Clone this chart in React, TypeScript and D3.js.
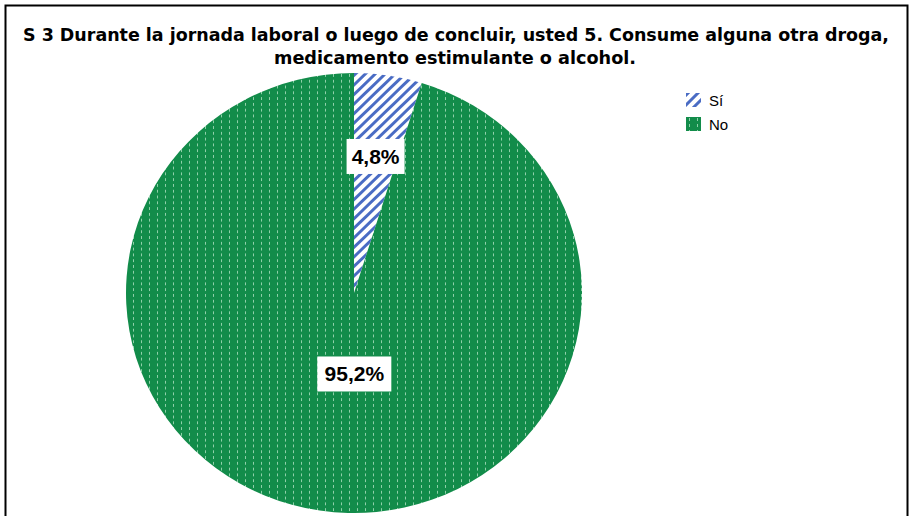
import React from "react";
import * as d3 from "d3";

const categories = ["Sí", "No"];
const values = [4.8, 95.2];
const labels = ["4,8%", "95,2%"];
const titleLines = [
  "S 3 Durante la jornada laboral o luego de concluir, usted 5. Consume alguna otra droga,",
  "medicamento estimulante o alcohol.",
];

const W = 912;
const H = 516;
const cx = 354;
const cy = 293;
const rx = 228;
const ry = 220;

export default function App() {
  const pie = d3.pie<number>().sort(null).value((d) => d)(values);
  const arc = d3.arc<d3.PieArcDatum<number>>().innerRadius(0).outerRadius(rx);
  const labelDist = [0.63, 0.37];
  const fills = ["url(#stripes)", "url(#dots)"];
  const boxW = [58, 74];

  return (
    <svg
      width={W}
      height={H}
      style={{ position: "absolute", left: 0, top: 0, background: "#fff" }}
    >
      <defs>
        <pattern id="stripes" patternUnits="userSpaceOnUse" width="7" height="7" patternTransform="rotate(45)">
          <rect width="7" height="7" fill="#fff" />
          <rect x="0" y="0" width="3" height="7" fill="#4a6cc4" />
        </pattern>
        <pattern id="dots" patternUnits="userSpaceOnUse" width="8" height="6">
          <rect width="8" height="6" fill="#128c4a" />
          <rect x="3" y="1" width="1" height="3" fill="#8fd0a9" />
        </pattern>
      </defs>
      <rect x={5.5} y={5.5} width={902} height={520} fill="none" stroke="#000" strokeWidth={2} />
      <g fontFamily="'DejaVu Sans Condensed', 'DejaVu Sans', sans-serif" fontWeight="bold" fontSize={17} textAnchor="middle" fill="#000">
        <text x={456} y={41} textLength={866} lengthAdjust="spacingAndGlyphs">{titleLines[0]}</text>
        <text x={455} y={64} textLength={362} lengthAdjust="spacingAndGlyphs">{titleLines[1]}</text>
      </g>
      <g transform={`translate(${cx},${cy}) scale(1,${ry / rx})`}>
        {pie.map((p, i) => (
          <path key={i} d={arc(p) || ""} fill={fills[i]} />
        ))}
      </g>
      {pie.map((p, i) => {
        const a = (p.startAngle + p.endAngle) / 2;
        const x = cx + Math.sin(a) * labelDist[i] * rx + (i === 1 ? 13 : 0);
        const y = cy - Math.cos(a) * labelDist[i] * ry;
        return (
          <g key={i}>
            <rect x={x - boxW[i] / 2} y={y - 17} width={boxW[i]} height={35} fill="#fff" />
            <text x={x} y={y + 8} textAnchor="middle" fontFamily="'Liberation Sans', Arial, sans-serif" fontWeight="bold" fontSize={21} fill="#000">
              {labels[i]}
            </text>
          </g>
        );
      })}
      {categories.map((c, i) => (
        <g key={c} transform={`translate(686,${93 + i * 24})`}>
          <rect width={15} height={14} fill={fills[i]} />
          <text x={23} y={13} fontFamily="'Liberation Sans', Arial, sans-serif" fontSize={15} fill="#000">{c}</text>
        </g>
      ))}
    </svg>
  );
}
